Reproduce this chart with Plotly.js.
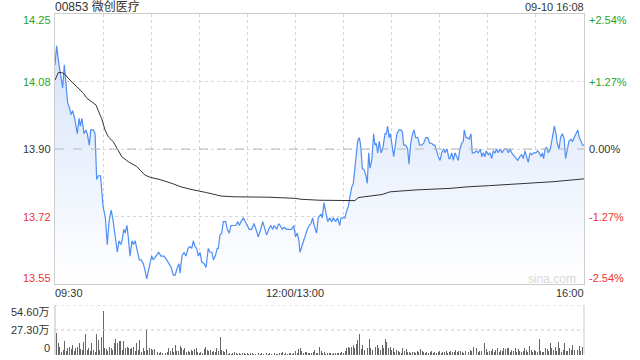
<!DOCTYPE html>
<html><head><meta charset="utf-8">
<script src="https://cdn.plot.ly/plotly-3.0.1.min.js"></script>
<style>html,body{margin:0;padding:0;background:#fff}#chart{width:640px;height:360px}</style>
</head><body><div id="chart"></div>
<script>
const stockTitle = "00853 微创医疗";
const stamp = "09-10 16:08";
const prevClose = 13.90;
const pctSteps = [2, 1, 0, -1, -2];
const priceLabels = ["14.25", "14.08", "13.90", "13.72", "13.55"];
const pctLabels = ["+2.54%", "+1.27%", "0.00%", "-1.27%", "-2.54%"];
const timeLabels = ["09:30", "12:00/13:00", "16:00"];
const timeLabelPos = [0, 150, 330];
const volLabels = ["54.60万", "27.30万", "0"];
const volLevels = [54.6, 27.3, 0];

// minutes since 09:30 (trading minutes, lunch removed)
const priceTimes = [0,1,2.5,4.2,4.8,5.8,6.9,7.9,8.9,10,
 11,12.3,13.9,15,15.8,16.8,18.1,19.2,20.1,21.4,
 22.3,23.9,25,26,27,28.4,29,30,31.4,32.6,
 33.7,35,36,37.4,38.9,39.9,41,41.8,42.9,43.7,
 44.9,45.7,46.8,48,49,50,51.3,52.6,53.8,55.1,
 56.3,57.2,58.2,59.3,60.3,61.3,63,64.7,66.1,68,
 69.7,71.1,72.5,73.8,75,76.3,77.4,78,79.2,80.5,
 81.7,83,84.2,85.3,86.3,87.3,88.4,89.4,90.5,91.5,
 93,94.2,95.6,96.7,97.9,98.8,100,101.2,101.9,102.9,
 104,105,106.5,107.5,108.7,109.8,111.2,112.7,114,115,
 116,117.5,118.7,120,121.2,122.7,124.1,125.4,126.8,128.3,
 129.6,131,132,133.3,134.6,135.8,136.8,138.3,139.5,140.5,
 141.8,142.9,144.5,146.2,147.6,149,150,151.1,152.2,152.8,
 153.9,155.3,156.6,157.4,158.6,159.7,160.7,161.7,163.2,164.2,
 165.9,166.7,167.8,168.9,170.1,171.4,172.6,173.6,175.1,176.3,
 177.6,178.4,179.8,180.9,182.1,183,184.2,185.1,186.1,187.1,
 187.9,188.8,189.8,190.7,191.7,192.9,194,194.8,195.7,196.5,
 197.6,198.8,199.6,200.4,201.3,202.3,203.4,204.4,205.9,206.7,
 207.5,208.4,209.2,210,211.3,212.3,213.3,214.6,215.8,216.7,
 217.5,218.8,220,220.8,221.9,223.1,224,225,226.3,227.5,
 228.8,230,231.3,232.5,233.7,235,236,237,238.1,239.1,
 240.2,241.2,242.5,243.3,244.5,245.8,246.4,247.5,248.5,249.5,
 250.6,251.6,252.6,253.7,254.7,255.3,256.4,257.4,258.4,259.5,
 260.3,261.6,262.8,264,265.3,266.2,267.2,268.2,269,270.3,
 271.4,272.4,273.4,274.5,275.5,276.5,277.6,279,280.3,281.8,
 282.8,283.8,284.9,285.9,287.4,288.7,289.9,291.1,292.1,293.2,
 294.2,295.2,296.3,297.4,298.6,299.9,301.1,302.1,303.2,304,
 304.8,305.7,306.7,307.7,309,309.8,310.8,311.5,312.5,313.3,
 314.4,315.4,316.4,317.5,318.5,319.5,320.6,321.9,322.9,323.9,
 325,326.1,327.1,328.2,329.2,330];
const prices = [14.12,14.17,14.12,14.08,14.06,14.12,14.07,14.02,14.01,13.99,
 14.00,13.98,13.94,13.98,13.96,13.98,13.94,13.95,13.94,13.91,
 13.95,13.95,13.94,13.82,13.83,13.83,13.80,13.75,13.72,13.65,
 13.71,13.74,13.72,13.67,13.63,13.66,13.65,13.66,13.69,13.68,
 13.70,13.67,13.62,13.66,13.65,13.66,13.63,13.61,13.61,13.60,
 13.58,13.56,13.58,13.60,13.62,13.61,13.62,13.63,13.62,13.62,
 13.61,13.60,13.59,13.57,13.57,13.59,13.60,13.575,13.62,13.63,
 13.62,13.64,13.645,13.64,13.66,13.645,13.64,13.62,13.63,13.605,
 13.60,13.59,13.64,13.63,13.63,13.61,13.62,13.64,13.64,13.675,
 13.68,13.71,13.71,13.69,13.68,13.70,13.70,13.70,13.71,13.70,
 13.71,13.72,13.71,13.70,13.69,13.69,13.705,13.69,13.67,13.69,
 13.71,13.69,13.675,13.69,13.70,13.69,13.70,13.69,13.705,13.70,
 13.69,13.695,13.69,13.69,13.69,13.70,13.67,13.68,13.66,13.63,
 13.645,13.665,13.68,13.69,13.70,13.705,13.72,13.70,13.68,13.72,
 13.73,13.72,13.76,13.73,13.71,13.72,13.71,13.72,13.71,13.72,
 13.70,13.72,13.72,13.72,13.74,13.75,13.78,13.80,13.81,13.85,
 13.89,13.92,13.93,13.91,13.85,13.845,13.83,13.81,13.89,13.85,
 13.87,13.94,13.91,13.915,13.89,13.92,13.89,13.90,13.94,13.94,
 13.96,13.93,13.94,13.92,13.88,13.91,13.94,13.95,13.95,13.945,
 13.91,13.91,13.90,13.86,13.915,13.94,13.95,13.93,13.93,13.91,
 13.91,13.915,13.93,13.93,13.915,13.915,13.91,13.91,13.89,13.88,
 13.87,13.89,13.90,13.89,13.90,13.875,13.875,13.89,13.87,13.89,
 13.88,13.87,13.90,13.915,13.92,13.95,13.93,13.93,13.925,13.94,
 13.89,13.89,13.895,13.89,13.90,13.88,13.89,13.88,13.895,13.885,
 13.89,13.875,13.895,13.89,13.90,13.89,13.90,13.89,13.90,13.90,
 13.89,13.90,13.89,13.885,13.875,13.87,13.88,13.885,13.875,13.895,
 13.88,13.865,13.89,13.885,13.89,13.89,13.895,13.89,13.88,13.89,
 13.875,13.90,13.905,13.89,13.90,13.92,13.945,13.96,13.94,13.915,
 13.90,13.93,13.94,13.93,13.875,13.90,13.92,13.925,13.92,13.93,
 13.94,13.95,13.93,13.92,13.91,13.91];

const avgTimes = [0,2.1,4.2,6.2,9.4,13.5,17.7,19.8,22.9,25.6,28.1,29.1,31.2,33.2,36.4,38.5,41.6,45.7,51,53,56.1,59.3,65.5,73,78.6,84.2,91,94.5,98.6,103.5,111.7,132.9,149.7,153.5,165.3,187.1,189.2,204,209,225.2,246.4,257,270.3,288.2,299.4,310.8,330];
const avgPrices = [14.08,14.10,14.10,14.095,14.08,14.063,14.046,14.033,14.024,14.015,13.989,13.98,13.95,13.932,13.919,13.902,13.88,13.867,13.854,13.845,13.832,13.826,13.82,13.81,13.801,13.795,13.79,13.786,13.782,13.777,13.775,13.774,13.771,13.7685,13.766,13.765,13.773,13.781,13.788,13.793,13.797,13.801,13.804,13.8085,13.81,13.8145,13.822];

// volume, in 万 shares (larger bars)
const volTimes = [1,2,3,4,6,7,8,9,10,11,13,14,15,17,18,19,20,21,23,24,25,26,27,29,30,31,32,34,35,36,37,38,39,40,41,43,44,45,46,47,48,49,51,52,53,55,56,57,58,59,60,61,62,63,64,65,68,69,71,72,73,74,75,76,78,79,80,81,82,83,85,86,87,88,89,90,93,94,95,96,97,99,100,101,102,103,104,105,106,107,
 153,154,156,158,162,165,166,168,174,176,182,183,184,185,186,187,188,189,190,192,193,194,195,196,197,198,200,201,202,203,204,205,206,207,208,209,210,211,213,215,217,218,219,221,224,226,228,229,230,
 253,257,259,261,262,263,265,268,269,271,273,276,278,280,281,282,283,285,287,289,290,291,293,294,296,297,298,299,302,304,306,307,309,310,312,314,315,317,318,319,321,322,323,325,326,327,329,330];
const volumes = [23.7,12.7,9,3.6,15.6,4.4,7.3,9,6.2,10.9,7.3,8.4,12.7,5.5,14.6,22.9,5.5,7.3,13.5,5.5,3.6,22.6,16.4,20,48.4,7.3,6.2,9,7.3,5.5,12.7,17.5,13.5,15.3,15.3,15.3,7.3,9,8,6.2,7.3,9,12.7,5.5,16.4,8,4.7,28,5.5,7.3,6.2,5.5,6.5,7.3,3.6,2.5,3.6,2.5,7.3,4.7,7.3,3.6,10.9,4.7,9.8,7.3,5.5,7.3,3.6,4.7,5.5,4.7,6.2,7.3,3.6,2.5,6.2,9,5.5,4.7,5.5,4.7,3.6,7.3,4.7,20,5.5,4.7,3.6,6.2,
 7.3,4.7,3.6,2.5,5.5,8.4,4.7,3.6,2.5,1.8,7.3,9,7.3,9,10.9,7.3,11.6,16.4,23,10.9,5.5,4.7,7.3,17.1,7.3,5.5,9,10.9,7.3,5.5,10.9,7.3,17.1,14.6,7.3,9,5.5,7.3,5.5,3.6,7.3,4.7,6.2,3.6,3.6,4.7,6.2,4.7,3.6,
 4.7,6.2,5.5,9,9.8,7.3,4.7,12.7,6.2,4.7,6.2,7.3,5.5,7.3,6.2,7.3,7.3,5.5,7.3,6.2,4.7,3.6,7.3,5.5,9.8,5.5,3.6,5.5,17.5,3.6,7.3,6.2,12.7,7.3,9,14.6,7.3,5.5,12.7,4.7,7.3,5.5,10.9,7.3,5.5,9.8,9,23];

// volume, in 万 shares (small bars of the quieter minutes)
const volTimesQuiet = [5,12,16,22,28,33,42,50,54,66,67,70,77,84,91,92,98,
 108,109,110,111,112,113,114,115,116,117,118,119,120,121,122,123,124,125,126,127,128,129,130,131,132,133,134,135,136,137,138,139,140,141,142,143,144,145,146,147,148,149,
 150,151,152,155,157,159,160,161,163,164,167,169,170,171,172,173,175,177,178,179,180,181,191,199,212,214,216,220,222,223,225,227,
 231,232,233,234,235,236,237,238,239,240,241,242,243,244,245,246,247,248,249,250,251,252,
 254,255,256,258,260,264,266,267,270,272,274,275,277,279,284,286,288,292,295,300,301,303,305,308,311,313,316,320,324,328];
const volumesQuiet = [5.5,4.7,6.2,4.7,5.5,4.7,5.5,4.7,3.6,3.6,2.5,3.6,4.7,3.6,3.6,2.5,3.6,
 1.5,2.2,1.2,1.8,3.6,2.5,1.5,2.2,1.2,2.5,1.8,1.5,2.2,1.2,1.8,2.5,1.5,1.2,2.2,1.8,1.5,2.5,1.2,3.6,1.8,1.5,2.2,1.2,1.8,2.5,1.5,1.2,2.2,1.8,3,1.5,2.2,1.2,1.8,2.5,1.5,2.2,
 4.7,1.8,6.2,2.5,3.6,2.2,1.8,3,2.5,1.8,2.2,1.5,2.5,1.8,2.2,1.5,2.5,1.8,2.2,3.6,2.5,4.7,6.2,4.7,3.6,4.7,2.5,3.6,2.5,3,2.5,3.6,
 2.5,3.6,2.5,3,4.7,2.5,3.6,2.5,3.6,4.7,2.5,3.6,3,4.7,2.5,3.6,4.7,3,3.6,5.5,3,4.7,
 3.6,2.5,4.7,3.6,4.7,3.6,4.7,3.6,3.6,4.7,3.6,5.5,3.6,4.7,3.6,4.7,3.6,4.7,3.6,4.7,3.6,4.7,3.6,4.7,5.5,4.7,3.6,4.7,5.5,4.7];

const GREEN = '#1fa51f', RED = '#ee3333', DARK = '#333333';
const lo = prevClose * (1 - 0.0254), hi = prevClose * (1 + 0.0254);
const levels = pctSteps.map(k => prevClose * (1 + k * 0.0127));
const labelColor = k => k > 0 ? GREEN : (k < 0 ? RED : DARK);
const gridX = [];
for (let t = 0; t <= 330; t += 30) gridX.push(t);

const traces = [
  {x: priceTimes, y: prices, type: 'scatter', mode: 'lines', fill: 'tozeroy',
   fillgradient: {type: 'vertical', start: lo, stop: hi,
     colorscale: [[0, 'rgba(255,255,255,1)'], [1, 'rgba(210,224,249,1)']]},
   line: {color: '#4f8ef2', width: 1.2}, hoverinfo: 'skip'},
  {x: avgTimes, y: avgPrices, type: 'scatter', mode: 'lines',
   line: {color: '#333333', width: 1}, hoverinfo: 'skip'},
  {x: volTimes.concat(volTimesQuiet), y: volumes.concat(volumesQuiet), type: 'bar', xaxis: 'x2', yaxis: 'y2',
   marker: {color: '#666666', line: {width: 0}}, width: 0.6, hoverinfo: 'skip'}
];

const ann = [];
const baseFont = {family: 'Liberation Sans, Arial, Noto Sans CJK SC, sans-serif', size: 11};
levels.forEach((v, i) => {
  const k = pctSteps[i];
  const ys = i === 0 ? -6 : (i === levels.length - 1 ? 6 : 0);
  ann.push({xref: 'paper', yref: 'y', x: 0, y: v, xanchor: 'right', yanchor: 'middle', xshift: -2, yshift: ys,
    text: priceLabels[i], showarrow: false, font: Object.assign({}, baseFont, {color: labelColor(k)})});
  ann.push({xref: 'paper', yref: 'y', x: 1, y: v, xanchor: 'left', yanchor: 'middle', xshift: 3, yshift: ys,
    text: pctLabels[i], showarrow: false, font: Object.assign({}, baseFont, {color: labelColor(k)})});
});
timeLabels.forEach((t, i) => {
  ann.push({xref: 'x', yref: 'paper', x: timeLabelPos[i], y: 0.1818,
    xanchor: i === 0 ? 'left' : (i === timeLabels.length - 1 ? 'right' : 'center'), yanchor: 'middle',
    xshift: i === 0 ? -2 : (i === timeLabels.length - 1 ? 2 : 0),
    text: t, showarrow: false, font: Object.assign({}, baseFont, {color: DARK})});
});
volLabels.forEach((t, i) => {
  const ys = i === 0 ? -6.5 : (i === volLabels.length - 1 ? 6.5 : 0);
  ann.push({xref: 'paper', yref: 'y2', x: 0, y: volLevels[i], xanchor: 'right', yanchor: 'middle', xshift: -3, yshift: ys,
    text: t, showarrow: false, font: Object.assign({}, baseFont, {color: DARK})});
});
ann.push({xref: 'paper', yref: 'paper', x: 0, y: 1, xanchor: 'left', yanchor: 'middle', xshift: -2, yshift: 7,
  text: stockTitle, showarrow: false, font: {family: 'Liberation Sans, Arial, Noto Sans CJK SC, sans-serif', size: 12, color: DARK}});
ann.push({xref: 'paper', yref: 'paper', x: 1, y: 1, xanchor: 'right', yanchor: 'middle', xshift: 2, yshift: 7,
  text: stamp, showarrow: false, font: Object.assign({}, baseFont, {color: DARK})});
ann.push({xref: 'paper', yref: 'y', x: 0.9395, y: lo, xanchor: 'center', yanchor: 'middle', yshift: 5,
  text: 'sina.com', showarrow: false, font: {family: 'Liberation Sans, Arial, sans-serif', size: 12, color: '#d8d8d8'}});

const shapes = [
  {type: 'line', xref: 'paper', yref: 'y', x0: 0, x1: 1, y0: prevClose, y1: prevClose,
   line: {color: '#b8b8b8', width: 1, dash: 'dash'}},
  {type: 'line', xref: 'paper', yref: 'y2', x0: 0, x1: 1, y0: 54.6, y1: 54.6, line: {color: '#cccccc', width: 1, dash: 'dot'}},
  {type: 'line', xref: 'paper', yref: 'y2', x0: 0, x1: 1, y0: 27.3, y1: 27.3, line: {color: '#cccccc', width: 1, dash: 'dot'}},
  {type: 'line', xref: 'paper', yref: 'y2', x0: 0, x1: 0, y0: 0, y1: 54.6, line: {color: '#bbbbbb', width: 1}},
  {type: 'line', xref: 'paper', yref: 'y2', x0: 1, x1: 1, y0: 0, y1: 54.6, line: {color: '#cccccc', width: 1}}
];

const layout = {
  width: 640, height: 360,
  margin: {l: 55, r: 56, t: 14, b: 5},
  paper_bgcolor: '#ffffff', plot_bgcolor: '#ffffff',
  showlegend: false,
  xaxis: {domain: [0, 1], range: [0, 330], tickvals: gridX, showticklabels: false, ticks: '',
    showgrid: true, gridcolor: '#d6d6d6', griddash: 'dot', gridwidth: 1,
    showline: true, mirror: true, linecolor: '#cccccc', linewidth: 1, zeroline: false, fixedrange: true},
  yaxis: {domain: [0.2082, 1], range: [lo, hi], tickvals: levels, showticklabels: false, ticks: '',
    showgrid: true, gridcolor: '#d6d6d6', griddash: 'dot', gridwidth: 1,
    showline: true, mirror: true, linecolor: '#cccccc', linewidth: 1, zeroline: false, fixedrange: true},
  xaxis2: {anchor: 'y2', domain: [0, 1], range: [0, 330], showgrid: false, showticklabels: false, ticks: '',
    showline: false, zeroline: false, fixedrange: true},
  yaxis2: {anchor: 'x2', domain: [0, 0.1466], range: [0, 54.6], showgrid: false, showticklabels: false, ticks: '',
    showline: false, zeroline: false, fixedrange: true},
  bargap: 0,
  annotations: ann,
  shapes: shapes
};

Plotly.newPlot('chart', traces, layout, {displayModeBar: false, staticPlot: true});
</script>
</body></html>
